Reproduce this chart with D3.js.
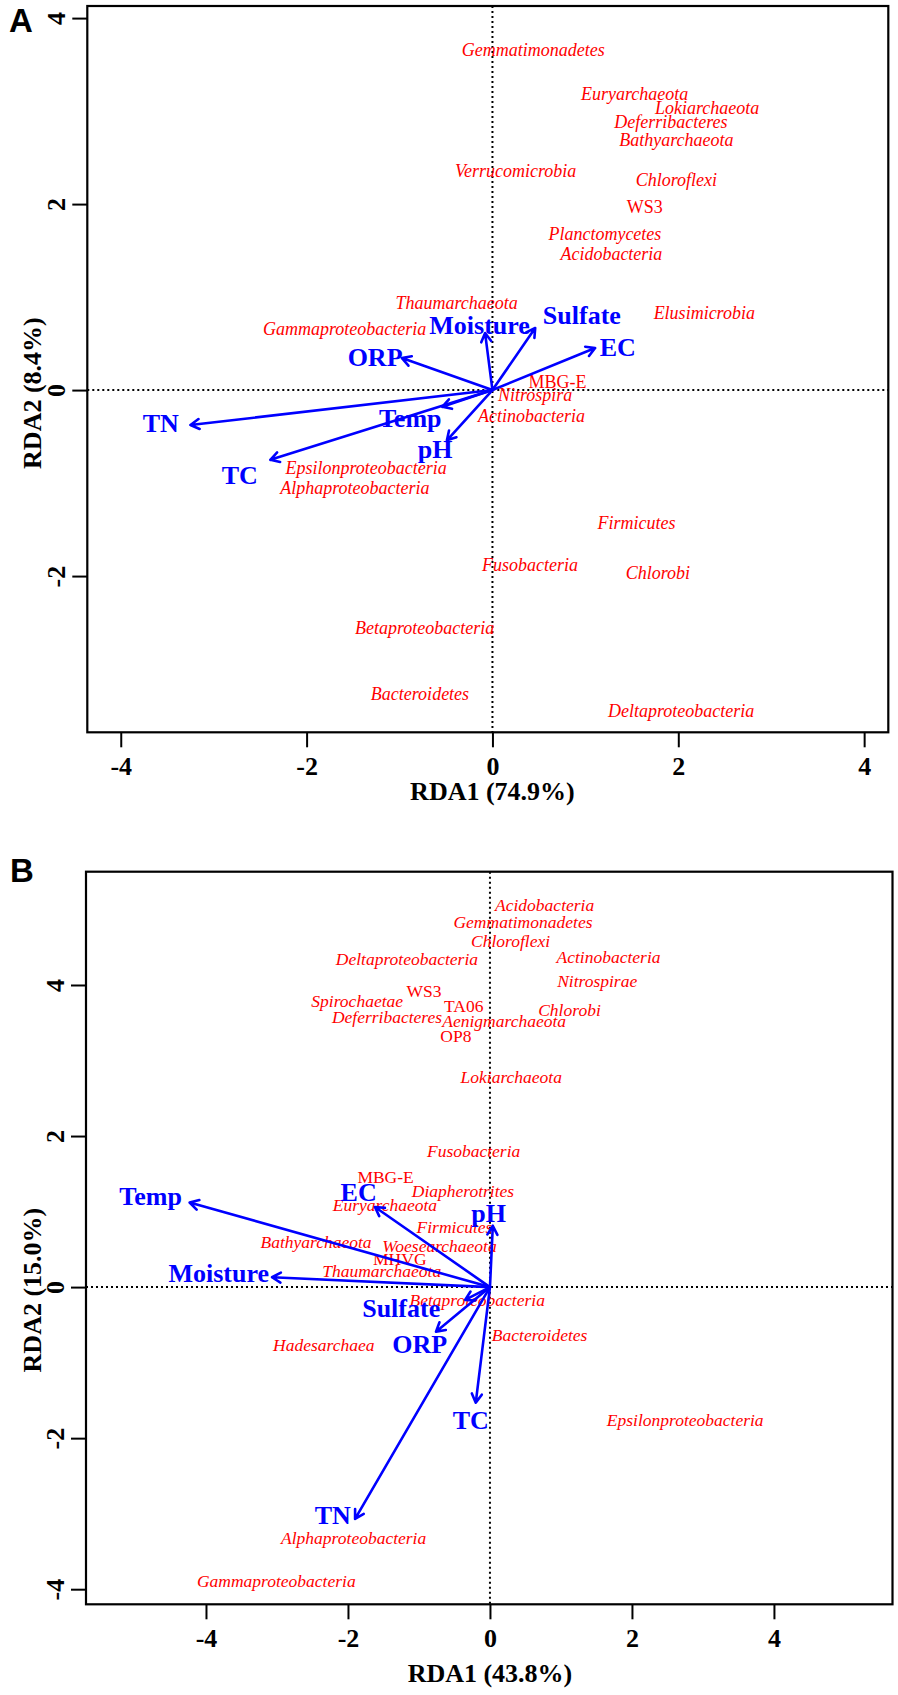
<!DOCTYPE html>
<html>
<head>
<meta charset="utf-8">
<script src="https://cdnjs.cloudflare.com/ajax/libs/d3/7.8.5/d3.min.js"></script>
<style>
    body { margin: 0; background: #fff; }
    .taxon { fill: #ff0000; font-family: "Liberation Serif", "Times New Roman", serif; font-style: italic; }
    .taxon.upright { font-style: normal; }
    .envLabel { fill: #0000ff; font-family: "Liberation Serif", "Times New Roman", serif; font-weight: bold; font-size: 26px; }
    .axis text, .axisTitle { font-family: "Liberation Serif", "Times New Roman", serif; font-weight: bold; font-size: 26px; fill: #000; }
    .axis path { display: none; }
    .axis line { stroke: #000; stroke-width: 2; }
    .frame { fill: none; stroke: #000; stroke-width: 2.2; }
    .zero { stroke: #000; stroke-width: 2; stroke-dasharray: 2,3; }
    .arrow { stroke: #0000ff; stroke-width: 2.6; fill: none; stroke-linecap: round; stroke-linejoin: round; }
    .panelTag { font-family: "Liberation Sans", Arial, sans-serif; font-weight: bold; font-size: 33px; }
</style>
</head>
<body>
<div id="chart"></div>
<script>
// taxa printed upright instead of italic
const uprightTaxa = ["WS3", "MBG-E", "TA06", "OP8", "MHVG"];

// panel A - species scores (RDA1, RDA2)
const taxaA = [
    {name: "Gemmatimonadetes", rda1: 0.44, rda2: 3.66},
    {name: "Euryarchaeota", rda1: 1.53, rda2: 3.19},
    {name: "Lokiarchaeota", rda1: 2.31, rda2: 3.04},
    {name: "Deferribacteres", rda1: 1.92, rda2: 2.89},
    {name: "Bathyarchaeota", rda1: 1.98, rda2: 2.69},
    {name: "Verrucomicrobia", rda1: 0.25, rda2: 2.355},
    {name: "Chloroflexi", rda1: 1.98, rda2: 2.26},
    {name: "WS3", rda1: 1.64, rda2: 1.97},
    {name: "Planctomycetes", rda1: 1.21, rda2: 1.68},
    {name: "Acidobacteria", rda1: 1.28, rda2: 1.47},
    {name: "Thaumarchaeota", rda1: -0.385, rda2: 0.94},
    {name: "Elusimicrobia", rda1: 2.28, rda2: 0.83},
    {name: "Gammaproteobacteria", rda1: -1.59, rda2: 0.655},
    {name: "MBG-E", rda1: 0.70, rda2: 0.09},
    {name: "Nitrospira", rda1: 0.46, rda2: -0.05},
    {name: "Actinobacteria", rda1: 0.42, rda2: -0.28},
    {name: "Epsilonproteobacteria", rda1: -1.36, rda2: -0.83},
    {name: "Alphaproteobacteria", rda1: -1.48, rda2: -1.05},
    {name: "Firmicutes", rda1: 1.55, rda2: -1.43},
    {name: "Fusobacteria", rda1: 0.405, rda2: -1.88},
    {name: "Chlorobi", rda1: 1.78, rda2: -1.96},
    {name: "Betaproteobacteria", rda1: -0.73, rda2: -2.56},
    {name: "Bacteroidetes", rda1: -0.78, rda2: -3.26},
    {name: "Deltaproteobacteria", rda1: 2.03, rda2: -3.45}
];

// panel A - environmental arrows (tip) and where their label sits
const envA = [
    {name: "TN", rda1: -3.25, rda2: -0.376, labRda1: -3.57, labRda2: -0.355},
    {name: "TC", rda1: -2.39, rda2: -0.75, labRda1: -2.72, labRda2: -0.91},
    {name: "Temp", rda1: -0.54, rda2: -0.18, labRda1: -0.885, labRda2: -0.30},
    {name: "pH", rda1: -0.49, rda2: -0.54, labRda1: -0.617, labRda2: -0.634},
    {name: "ORP", rda1: -0.974, rda2: 0.344, labRda1: -1.263, labRda2: 0.355},
    {name: "Moisture", rda1: -0.079, rda2: 0.613, labRda1: -0.138, labRda2: 0.699},
    {name: "Sulfate", rda1: 0.46, rda2: 0.667, labRda1: 0.962, labRda2: 0.806},
    {name: "EC", rda1: 1.105, rda2: 0.452, labRda1: 1.348, labRda2: 0.462}
];

// panel B - species scores
const taxaB = [
    {name: "Acidobacteria", rda1: 0.77, rda2: 5.06},
    {name: "Gemmatimonadetes", rda1: 0.465, rda2: 4.83},
    {name: "Chloroflexi", rda1: 0.29, rda2: 4.59},
    {name: "Deltaproteobacteria", rda1: -1.17, rda2: 4.34},
    {name: "Actinobacteria", rda1: 1.67, rda2: 4.37},
    {name: "Nitrospirae", rda1: 1.51, rda2: 4.06},
    {name: "WS3", rda1: -0.93, rda2: 3.92},
    {name: "Spirochaetae", rda1: -1.87, rda2: 3.79},
    {name: "TA06", rda1: -0.37, rda2: 3.73},
    {name: "Chlorobi", rda1: 1.12, rda2: 3.67},
    {name: "Deferribacteres", rda1: -1.45, rda2: 3.58},
    {name: "Aenigmarchaeota", rda1: 0.20, rda2: 3.52},
    {name: "OP8", rda1: -0.48, rda2: 3.32},
    {name: "Lokiarchaeota", rda1: 0.30, rda2: 2.78},
    {name: "Fusobacteria", rda1: -0.23, rda2: 1.80},
    {name: "MBG-E", rda1: -1.47, rda2: 1.46},
    {name: "Diapherotrites", rda1: -0.38, rda2: 1.27},
    {name: "Euryarchaeota", rda1: -1.48, rda2: 1.09},
    {name: "Firmicutes", rda1: -0.50, rda2: 0.80},
    {name: "Bathyarchaeota", rda1: -2.45, rda2: 0.60},
    {name: "Woesearchaeota", rda1: -0.71, rda2: 0.54},
    {name: "MHVG", rda1: -1.27, rda2: 0.37},
    {name: "Thaumarchaeota", rda1: -1.525, rda2: 0.21},
    {name: "Betaproteobacteria", rda1: -0.18, rda2: -0.17},
    {name: "Bacteroidetes", rda1: 0.70, rda2: -0.63},
    {name: "Hadesarchaea", rda1: -2.34, rda2: -0.76},
    {name: "Epsilonproteobacteria", rda1: 2.75, rda2: -1.76},
    {name: "Alphaproteobacteria", rda1: -1.92, rda2: -3.32},
    {name: "Gammaproteobacteria", rda1: -3.01, rda2: -3.89}
];

// panel B - environmental arrows
const envB = [
    {name: "Temp", rda1: -4.23, rda2: 1.12, labRda1: -4.78, labRda2: 1.21},
    {name: "Moisture", rda1: -3.07, rda2: 0.13, labRda1: -3.82, labRda2: 0.185},
    {name: "EC", rda1: -1.62, rda2: 1.06, labRda1: -1.85, labRda2: 1.26},
    {name: "pH", rda1: 0.04, rda2: 0.81, labRda1: -0.02, labRda2: 0.98},
    {name: "Sulfate", rda1: -0.35, rda2: -0.17, labRda1: -1.25, labRda2: -0.28},
    {name: "ORP", rda1: -0.76, rda2: -0.59, labRda1: -0.99, labRda2: -0.75},
    {name: "TC", rda1: -0.20, rda2: -1.53, labRda1: -0.27, labRda2: -1.76},
    {name: "TN", rda1: -1.90, rda2: -3.07, labRda1: -2.215, labRda2: -3.01}
];

// tick values
const ticksAx = [-4, -2, 0, 2, 4];
const ticksAy = [-2, 0, 2, 4];
const ticksBx = [-4, -2, 0, 2, 4];
const ticksBy = [-4, -2, 0, 2, 4];

// axis titles
const titlesA = {x: "RDA1 (74.9%)", y: "RDA2 (8.4%)"};
const titlesB = {x: "RDA1 (43.8%)", y: "RDA2 (15.0%)"};

class Biplot {
    /**
     * One RDA triplot panel
     */
    constructor(svg, opts) {
        this.opts = opts;
        this.box = opts.box;
        this.g = svg.append("g").attr("class", "panel");
        this.x = d3.scaleLinear().domain(opts.xDomain).range([opts.box.left, opts.box.right]);
        this.y = d3.scaleLinear().domain(opts.yDomain).range([opts.box.bottom, opts.box.top]);
    }

    arrowPath(x0, y0, x1, y1) {
        let a = Math.atan2(y1 - y0, x1 - x0);
        let len = 10, spread = Math.PI / 6;
        let p = d3.path();
        p.moveTo(x0, y0);
        p.lineTo(x1, y1);
        p.moveTo(x1 - len * Math.cos(a - spread), y1 - len * Math.sin(a - spread));
        p.lineTo(x1, y1);
        p.lineTo(x1 - len * Math.cos(a + spread), y1 - len * Math.sin(a + spread));
        return p.toString();
    }

    draw(taxa, env, titles) {
        let that = this;
        let b = this.box, x = this.x, y = this.y, g = this.g, o = this.opts;

        //dotted lines through the origin
        g.append("line").attr("class", "zero")
            .attr("x1", x(0)).attr("x2", x(0)).attr("y1", b.top).attr("y2", b.bottom);
        g.append("line").attr("class", "zero")
            .attr("x1", b.left).attr("x2", b.right).attr("y1", y(0)).attr("y2", y(0));

        //species names
        g.selectAll(".taxon")
            .data(taxa)
            .enter()
            .append("text")
            .attr("class", d => uprightTaxa.includes(d.name) ? "taxon upright" : "taxon")
            .attr("x", d => x(d.rda1))
            .attr("y", d => y(d.rda2))
            .attr("dy", "0.35em")
            .attr("text-anchor", "middle")
            .style("font-size", o.taxonSize + "px")
            .text(d => d.name);

        //environmental arrows
        g.selectAll(".arrow")
            .data(env)
            .enter()
            .append("path")
            .attr("class", "arrow")
            .attr("d", d => that.arrowPath(x(0), y(0), x(d.rda1), y(d.rda2)));

        g.selectAll(".envLabel")
            .data(env)
            .enter()
            .append("text")
            .attr("class", "envLabel")
            .attr("x", d => x(d.labRda1))
            .attr("y", d => y(d.labRda2))
            .attr("dy", "0.35em")
            .attr("text-anchor", "middle")
            .text(d => d.name);

        //frame
        g.append("rect").attr("class", "frame")
            .attr("x", b.left).attr("y", b.top)
            .attr("width", b.right - b.left).attr("height", b.bottom - b.top);

        //axes
        let xAxis = d3.axisBottom(x).tickValues(o.xTicks).tickSize(15).tickFormat(d => String(d));
        g.append("g").attr("class", "axis")
            .attr("transform", "translate(0," + b.bottom + ")")
            .call(xAxis)
            .selectAll("text").attr("y", 43).attr("dy", 0);

        let yAxis = d3.axisLeft(y).tickValues(o.yTicks).tickSize(15).tickFormat(d => String(d));
        g.append("g").attr("class", "axis")
            .attr("transform", "translate(" + b.left + ",0)")
            .call(yAxis)
            .selectAll("text")
            .attr("x", 0).attr("dy", 0)
            .attr("text-anchor", "middle")
            .attr("transform", "translate(-22,0) rotate(-90)");

        g.append("text").attr("class", "axisTitle")
            .attr("x", x(0)).attr("y", b.bottom + o.xTitleOffset)
            .attr("text-anchor", "middle")
            .text(titles.x);

        g.append("text").attr("class", "axisTitle")
            .attr("text-anchor", "middle")
            .attr("transform", "translate(41," + (y(0) + 3) + ") rotate(-90)")
            .text(titles.y);

        g.append("text").attr("class", "panelTag")
            .attr("x", o.tag.x).attr("y", o.tag.y)
            .text(o.tag.text);
    }
}

let svg = d3.select("#chart").append("svg")
    .attr("width", 898)
    .attr("height", 1695);

let panelA = new Biplot(svg, {
    box: {left: 87.3, right: 888.3, top: 6, bottom: 732.3},
    xDomain: [-4.36, 4.26],
    yDomain: [-3.68, 4.13],
    xTicks: ticksAx,
    yTicks: ticksAy,
    taxonSize: 18,
    xTitleOffset: 68,
    tag: {text: "A", x: 9, y: 32}
});
panelA.draw(taxaA, envA, titlesA);

let panelB = new Biplot(svg, {
    box: {left: 86, right: 892.5, top: 871.7, bottom: 1604.3},
    xDomain: [-5.69, 5.67],
    yDomain: [-4.20, 5.50],
    xTicks: ticksBx,
    yTicks: ticksBy,
    taxonSize: 17.5,
    xTitleOffset: 78,
    tag: {text: "B", x: 10, y: 882}
});
panelB.draw(taxaB, envB, titlesB);
</script>
</body>
</html>
